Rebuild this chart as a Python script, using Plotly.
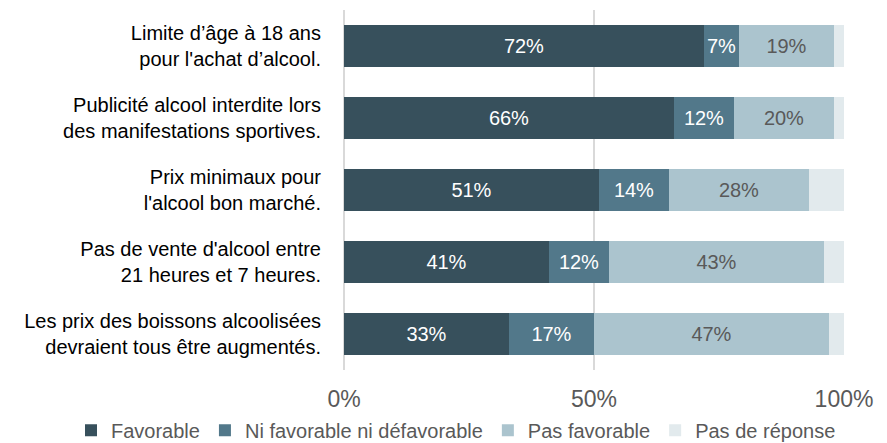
import plotly.graph_objects as go

categories = [
    "Limite d’âge à 18 ans<br>pour l'achat d’alcool.",
    "Publicité alcool interdite lors<br>des manifestations sportives.",
    "Prix minimaux pour<br>l'alcool bon marché.",
    "Pas de vente d'alcool entre<br>21 heures et 7 heures.",
    "Les prix des boissons alcoolisées<br>devraient tous être augmentés.",
]
favorable = [72, 66, 51, 41, 33]
neutre = [7, 12, 14, 12, 17]
pas_favorable = [19, 20, 28, 43, 47]
pas_reponse = [2, 2, 7, 4, 3]

series = [
    ("Favorable", favorable, "#37505C", "white", True),
    ("Ni favorable ni défavorable", neutre, "#52788A", "white", True),
    ("Pas favorable", pas_favorable, "#ABC4CE", "#595959", True),
    ("Pas de réponse", pas_reponse, "#E2EAED", "#595959", False),
]

FONT = "Liberation Sans, Arial, sans-serif"

fig = go.Figure()
for name, vals, color, tcolor, show_text in series:
    fig.add_trace(go.Bar(
        y=categories, x=vals, name=name, orientation="h",
        marker=dict(color=color, line=dict(width=0)),
        text=[f"{v}%" for v in vals] if show_text else None,
        texttemplate="%{text}" if show_text else None,
        textposition="inside" if show_text else "none",
        insidetextanchor="middle",
        textangle=0,
        textfont=dict(color=tcolor, size=20, family=FONT),
        hoverinfo="skip",
    ))

# page body has an 8px margin: figure is sized to fit inside the window
fig.update_layout(
    barmode="stack",
    bargap=0.42,
    width=879, height=435,
    margin=dict(l=336, r=43, t=2, b=73, autoexpand=False),
    plot_bgcolor="white", paper_bgcolor="white",
    font=dict(family=FONT, color="black"),
    uniformtext=dict(minsize=20, mode="show"),
    legend=dict(
        orientation="h", xref="paper", yref="paper",
        x=-0.546, xanchor="left", y=-0.113, yanchor="top",
        font=dict(size=20, color="#595959"),
        itemwidth=30, traceorder="normal",
    ),
)
fig.update_xaxes(
    range=[0, 100], dtick=50, ticksuffix="%",
    showgrid=True, gridcolor="#D9D9D9", gridwidth=1.5,
    zeroline=True, zerolinecolor="#D9D9D9", zerolinewidth=1.5,
    tickfont=dict(size=23, color="#595959"),
    ticklabelstandoff=13, showline=False, fixedrange=True,
)
fig.update_yaxes(
    autorange="reversed", showgrid=False,
    tickfont=dict(size=20, color="black"),
    ticklabelstandoff=22, fixedrange=True,
)

fig.write_html("out.html")
